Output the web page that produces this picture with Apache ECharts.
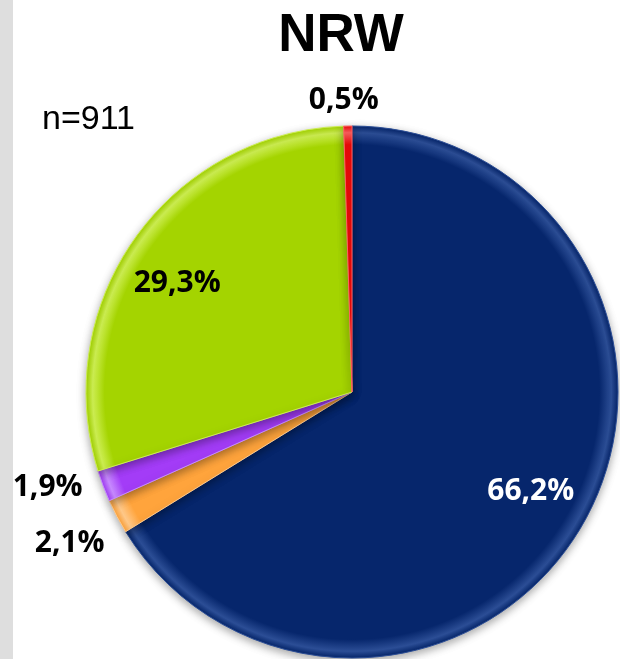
<!DOCTYPE html>
<html>
<head>
<meta charset="utf-8">
<script src="https://cdn.jsdelivr.net/npm/echarts@6/dist/echarts.min.js"></script>
<style>
  html, body { margin: 0; padding: 0; background: #fff; }
  #chart { width: 620px; height: 659px; }
</style>
</head>
<body>
<div id="chart"></div>
<script>
// data, clockwise from 12 o'clock
const categories = ['A', 'B', 'C', 'D', 'E'];
const shares = [66.2, 2.1, 1.9, 29.3, 0.5];
const labels = ['66,2%', '2,1%', '1,9%', '29,3%', '0,5%'];
const colors = ['#06266c', '#ffa43c', '#a33cf7', '#a4d400', '#ee0a0a'];
const rims = ['#2c4e96', '#ffc98a', '#c88bff', '#cdee52', '#ff6060'];

const CX = 352, CY = 392, R = 266;

// big slices get their label inside, small ones outside without a line
const inside = [true, false, false, true, false];
// nudges from the default label spot
const nudge = [[60, 33], [4, 24], [-4, -1], [-64, -30], [42, -20]];

let myChart = echarts.init(document.getElementById('chart'));

const seriesData = shares.map(function (v, i) {
  return {
    name: categories[i],
    value: v,
    itemStyle: {
      color: {
        type: 'radial', x: CX, y: CY, r: R, global: true,
        colorStops: [
          { offset: 0, color: colors[i] },
          { offset: 0.93, color: colors[i] },
          { offset: 0.975, color: rims[i] },
          { offset: 1, color: colors[i] }
        ]
      },
      borderColor: rims[i],
      borderWidth: 1
    },
    label: {
      position: inside[i] ? 'inside' : 'outside',
      color: i === 0 ? '#ffffff' : '#000000'
    },
    labelLine: { show: false }
  };
});

myChart.setOption({
  animation: false,
  backgroundColor: '#ffffff',
  title: {
    text: 'NRW',
    left: 336,
    top: 5,
    textAlign: 'center',
    textStyle: { fontFamily: 'Liberation Sans', fontWeight: 'bold', fontSize: 53, color: '#000' }
  },
  graphic: [
    { type: 'rect', shape: { x: 0, y: 0, width: 13, height: 659 }, style: { fill: '#dedede' } },
    {
      type: 'text', left: 42, top: 103,
      style: { text: 'n=911', font: '34px "Liberation Sans"', fill: '#000' }
    }
  ],
  series: [{
    type: 'pie',
    center: [CX, CY],
    radius: R,
    startAngle: 90,
    clockwise: true,
    avoidLabelOverlap: false,
    data: seriesData,
    itemStyle: {
      shadowBlur: 8,
      shadowOffsetY: 3,
      shadowColor: 'rgba(0,0,0,0.35)'
    },
    label: {
      show: true,
      formatter: function (p) { return labels[p.dataIndex]; },
      fontFamily: 'Open Sans',
      fontWeight: 'bold',
      fontSize: 30
    },
    labelLine: { show: false, length: 6, length2: 6 },
    labelLayout: function (p) {
      return { dx: nudge[p.dataIndex][0], dy: nudge[p.dataIndex][1] };
    },
    emphasis: { disabled: true }
  }]
});

window.onresize = function () {
  myChart.resize();
};
</script>
</body>
</html>
